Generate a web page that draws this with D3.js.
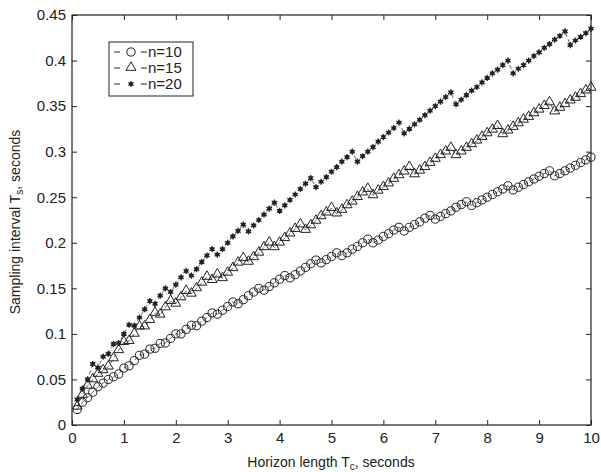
<!doctype html>
<html>
<head>
<meta charset="utf-8">
<style>
  body { margin: 0; background: #fff; }
  svg text { font-family: "Liberation Sans", Arial, sans-serif; fill: #222; }
  .axis path, .axis line { stroke: #222; }
</style>
<script src="https://cdn.jsdelivr.net/npm/d3@7"></script>
</head>
<body>
<svg width="601" height="472"></svg>
<script>
// horizon length Tc, seconds (0.1 .. 10)
var tc = d3.range(1, 101).map(function(i) { return i / 10; });

var yTicks = [0, 0.05, 0.1, 0.15, 0.2, 0.25, 0.3, 0.35, 0.4, 0.45];
var yTickLabels = ["0", "0.05", "0.1", "0.15", "0.2", "0.25", "0.3", "0.35", "0.4", "0.45"];
var xTicks = [0, 1, 2, 3, 4, 5, 6, 7, 8, 9, 10];

var n10 = [
  0.017, 0.025, 0.030, 0.036, 0.042, 0.046, 0.050, 0.053, 0.056, 0.0625,
  0.065, 0.0706, 0.0765, 0.0778, 0.0833, 0.0842, 0.0895, 0.090, 0.095, 0.100,
  0.100, 0.105, 0.1095, 0.109, 0.114, 0.118, 0.123, 0.1217, 0.126, 0.130,
  0.135, 0.133, 0.1375, 0.142, 0.146, 0.150, 0.148, 0.152, 0.156, 0.160,
  0.164, 0.1615, 0.165, 0.169, 0.173, 0.177, 0.181, 0.178, 0.1815, 0.185,
  0.189, 0.186, 0.189, 0.193, 0.196, 0.200, 0.204, 0.200, 0.203, 0.207,
  0.210, 0.214, 0.217, 0.213, 0.217, 0.220, 0.223, 0.227, 0.230, 0.226,
  0.229, 0.232, 0.235, 0.239, 0.242, 0.245, 0.241, 0.244, 0.247, 0.250,
  0.253, 0.256, 0.259, 0.2625, 0.258, 0.261, 0.264, 0.267, 0.270, 0.273,
  0.276, 0.279, 0.2735, 0.276, 0.279, 0.282, 0.285, 0.288, 0.291, 0.294
];

var n15 = [
  0.020, 0.033, 0.043, 0.050, 0.056, 0.060, 0.064, 0.073, 0.082, 0.091,
  0.092, 0.100, 0.108, 0.108, 0.115, 0.123, 0.121, 0.129, 0.136, 0.133,
  0.140, 0.147, 0.144, 0.150, 0.156, 0.1625, 0.159, 0.165, 0.161, 0.167,
  0.172, 0.178, 0.183, 0.179, 0.184, 0.189, 0.195, 0.200, 0.195, 0.200,
  0.205, 0.210, 0.215, 0.220, 0.214, 0.219, 0.224, 0.229, 0.233, 0.238,
  0.232, 0.236, 0.241, 0.245, 0.250, 0.255, 0.259, 0.252, 0.257, 0.261,
  0.265, 0.270, 0.274, 0.278, 0.283, 0.275, 0.279, 0.283, 0.2875, 0.292,
  0.296, 0.300, 0.304, 0.296, 0.300, 0.304, 0.308, 0.312, 0.316, 0.320,
  0.324, 0.328, 0.319, 0.323, 0.327, 0.331, 0.335, 0.338, 0.342, 0.346,
  0.350, 0.354, 0.344, 0.348, 0.352, 0.356, 0.359, 0.363, 0.367, 0.370
];

var n20 = [
  0.028, 0.040, 0.050, 0.067, 0.063, 0.075, 0.078, 0.089, 0.090, 0.100,
  0.110, 0.109, 0.118, 0.127, 0.136, 0.133, 0.142, 0.150, 0.146, 0.154,
  0.162, 0.169, 0.164, 0.171, 0.179, 0.186, 0.193, 0.187, 0.193, 0.200,
  0.207, 0.213, 0.220, 0.2125, 0.219, 0.225, 0.231, 0.2375, 0.244, 0.235,
  0.241, 0.247, 0.253, 0.259, 0.265, 0.271, 0.261, 0.267, 0.272, 0.278,
  0.283, 0.289, 0.294, 0.300, 0.289, 0.295, 0.300, 0.305, 0.311, 0.316,
  0.321, 0.326, 0.332, 0.320, 0.325, 0.330, 0.335, 0.340, 0.345, 0.350,
  0.355, 0.360, 0.365, 0.352, 0.357, 0.362, 0.367, 0.371, 0.376, 0.381,
  0.386, 0.390, 0.395, 0.400, 0.386, 0.391, 0.395, 0.400, 0.405, 0.409,
  0.414, 0.418, 0.423, 0.427, 0.432, 0.417, 0.422, 0.426, 0.430, 0.435
];

var seriesNames = ["n=10", "n=15", "n=20"];
var seriesValues = [n10, n15, n20];

var svg = d3.select("svg");
var x = d3.scaleLinear().domain([0, 10]).range([72, 591]);
var y = d3.scaleLinear().domain([0, 0.45]).range([425, 15]);

// frame
svg.append("rect")
  .attr("x", 72).attr("y", 15)
  .attr("width", 519).attr("height", 410)
  .attr("fill", "none").attr("stroke", "#222").attr("stroke-width", 1.2);

svg.append("g").attr("class", "axis")
  .attr("transform", "translate(0,425)")
  .call(d3.axisBottom(x).tickValues(xTicks).tickSize(-5).tickSizeOuter(0).tickPadding(7))
  .call(function(g) { g.select(".domain").remove(); })
  .selectAll("text").attr("font-size", 15).style("font-family", "Liberation Sans, Arial, sans-serif");

svg.append("g").attr("class", "axis")
  .attr("transform", "translate(0,15)")
  .call(d3.axisTop(x).tickValues(xTicks).tickSize(-5).tickFormat(""))
  .call(function(g) { g.select(".domain").remove(); });

svg.append("g").attr("class", "axis")
  .attr("transform", "translate(72,0)")
  .call(d3.axisLeft(y).tickValues(yTicks).tickSize(-5).tickPadding(6)
    .tickFormat(function(d, i) { return yTickLabels[i]; }))
  .call(function(g) { g.select(".domain").remove(); })
  .selectAll("text").attr("font-size", 15).style("font-family", "Liberation Sans, Arial, sans-serif");

svg.append("g").attr("class", "axis")
  .attr("transform", "translate(591,0)")
  .call(d3.axisRight(y).tickValues(yTicks).tickSize(-5).tickFormat(""))
  .call(function(g) { g.select(".domain").remove(); });

// axis titles
var xl = svg.append("text").attr("x", 331).attr("y", 467)
  .attr("text-anchor", "middle").attr("font-size", 14);
xl.append("tspan").text("Horizon length T");
xl.append("tspan").attr("font-size", 10).attr("dy", 3).text("c");
xl.append("tspan").attr("dy", -3).text(", seconds");

var yl = svg.append("text")
  .attr("transform", "translate(20,222) rotate(-90)")
  .attr("text-anchor", "middle").attr("font-size", 14);
yl.append("tspan").text("Sampling interval T");
yl.append("tspan").attr("font-size", 10).attr("dy", 3).text("s");
yl.append("tspan").attr("dy", -3).text(", seconds");

// markers
var triangle = d3.symbol().type(d3.symbolTriangle).size(42);
var asterisk = d3.symbol().type(d3.symbolAsterisk).size(26);

function drawMarker(g, k, px, py) {
  if (k === 0) {
    g.append("circle").attr("cx", px).attr("cy", py).attr("r", 4.1)
      .attr("fill", "none").attr("stroke", "#222").attr("stroke-width", 1);
  } else if (k === 1) {
    g.append("path").attr("d", triangle())
      .attr("transform", "translate(" + px + "," + (py - 0.5) + ")")
      .attr("fill", "none").attr("stroke", "#222").attr("stroke-width", 1);
  } else {
    g.append("path").attr("d", asterisk())
      .attr("transform", "translate(" + px + "," + py + ")")
      .attr("fill", "none").attr("stroke", "#222").attr("stroke-width", 1.3);
    g.append("circle").attr("cx", px).attr("cy", py).attr("r", 2.1).attr("fill", "#222");
  }
}

var line = d3.line().x(function(d) { return x(d[0]); }).y(function(d) { return y(d[1]); });

seriesValues.forEach(function(vals, k) {
  var pts = tc.map(function(t, i) { return [t, vals[i]]; });
  var g = svg.append("g");
  g.append("path").datum(pts).attr("d", line)
    .attr("fill", "none").attr("stroke", "#222").attr("stroke-width", 0.7)
    .attr("stroke-dasharray", "4,3");
  pts.forEach(function(p) { drawMarker(g, k, x(p[0]), y(p[1])); });
});

// legend
var lg = svg.append("g");
lg.append("rect").attr("x", 109).attr("y", 42).attr("width", 84).attr("height", 54)
  .attr("fill", "#fff").attr("stroke", "#222").attr("stroke-width", 1);
seriesNames.forEach(function(name, k) {
  var ly = 52 + k * 16;
  lg.append("line").attr("x1", 114).attr("x2", 120).attr("y1", ly).attr("y2", ly)
    .attr("stroke", "#222").attr("stroke-width", 1);
  lg.append("line").attr("x1", 141).attr("x2", 147).attr("y1", ly).attr("y2", ly)
    .attr("stroke", "#222").attr("stroke-width", 1);
  drawMarker(lg, k, 131, ly);
  lg.append("text").attr("x", 148).attr("y", ly + 5).attr("font-size", 15).text(name);
});
</script>
</body>
</html>
